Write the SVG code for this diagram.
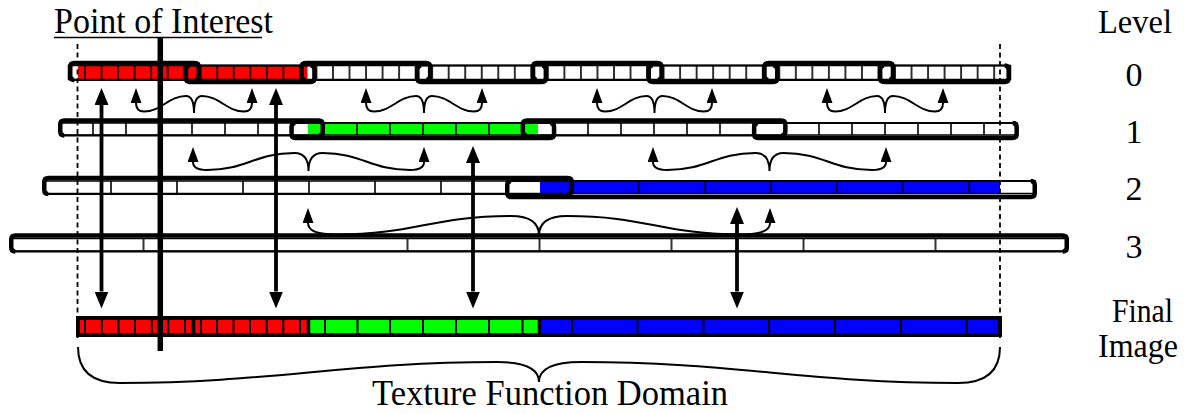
<svg xmlns="http://www.w3.org/2000/svg" width="1190" height="414" viewBox="0 0 1190 414">
<style>
text{font-family:"Liberation Serif","Times New Roman",serif;fill:#000}
.lbl{font-size:34px}
.num{font-size:34px;text-anchor:middle}
.big{font-size:35px}
.edge{fill:none;stroke:#000;stroke-width:1.5}
.thin{fill:none;stroke:#000;stroke-width:2}
.thick{fill:none;stroke:#000;stroke-width:4.5;stroke-linejoin:round}
.dash{stroke:#000;stroke-width:1.8;stroke-dasharray:5 3.5}
.dbl{stroke:#000;stroke-width:3.8}
.brace{fill:none;stroke:#000;stroke-width:2}
.cell{stroke:#000;stroke-width:2}
.div{stroke:#000;stroke-width:3.5}
</style>
<defs>
<pattern id="p0" patternUnits="userSpaceOnUse" x="68.5" y="0" width="16.53" height="414"><rect width="0.8" height="414"/><rect x="15.73" width="0.8" height="414"/></pattern>
<pattern id="p1" patternUnits="userSpaceOnUse" x="60" y="0" width="33" height="414"><rect width="0.8" height="414"/><rect x="32.2" width="0.8" height="414"/></pattern>
<pattern id="p2" patternUnits="userSpaceOnUse" x="45" y="0" width="66" height="414"><rect width="0.8" height="414"/><rect x="65.2" width="0.8" height="414"/></pattern>
<pattern id="p3" patternUnits="userSpaceOnUse" x="11.5" y="0" width="132" height="414"><rect width="0.8" height="414"/><rect x="131.2" width="0.8" height="414"/></pattern>
<marker id="ah" markerUnits="userSpaceOnUse" viewBox="0 -7 17 14" markerWidth="17" markerHeight="14" refX="0" refY="0" orient="auto-start-reverse"><path d="M0,-7 L17,0 L0,7 z" fill="#000"/></marker>
<marker id="bh" markerUnits="userSpaceOnUse" viewBox="0 -5.5 15 11" markerWidth="15" markerHeight="11" refX="0" refY="0" orient="auto-start-reverse"><path d="M0,-5.5 L15,0 L0,5.5 z" fill="#000"/></marker>
<g id="b0r"><rect class="thin" x="0" y="63" width="128.5" height="17" rx="4"/><path class="thick" d="M4,80 Q0,80 0,76 V67 Q0,63 4,63 H124.5 Q128.5,63 128.5,67 V76 Q128.5,80 124.5,80"/></g>
<g id="b0l"><rect class="thin" x="0" y="65.5" width="128.5" height="16.5" rx="4"/><path class="thick" d="M4,65.5 Q0,65.5 0,69.5 V78 Q0,82 4,82 H124.5 Q128.5,82 128.5,78 V69.5 Q128.5,65.5 124.5,65.5"/></g>
<g id="b1r"><rect class="thin" x="0" y="120.5" width="262.5" height="15" rx="4"/><path class="thick" d="M4,135.5 Q0,135.5 0,131.5 V124.5 Q0,120.5 4,120.5 H258.5 Q262.5,120.5 262.5,124.5 V131.5 Q262.5,135.5 258.5,135.5"/></g>
<g id="b1l"><rect class="thin" x="0" y="123" width="262.5" height="15" rx="4"/><path class="thick" d="M4,123 Q0,123 0,127 V134 Q0,138 4,138 H258.5 Q262.5,138 262.5,134 V127 Q262.5,123 258.5,123"/></g>
</defs>
<rect width="1190" height="414" fill="#fff"/>

<g id="level0">
<rect x="68.5" y="65.5" width="942" height="14" fill="#fff"/>
<rect x="78" y="65.5" width="229.5" height="14" fill="#f00"/>
<rect x="68.5" y="65.5" width="942" height="14" fill="url(#p0)"/>
<rect class="edge" x="68.5" y="65.5" width="942" height="14"/>
<use href="#b0r" x="70.25"/>
<use href="#b0l" x="185.95"/>
<use href="#b0r" x="301.65"/>
<use href="#b0l" x="417.35"/>
<use href="#b0r" x="533.05"/>
<use href="#b0l" x="648.75"/>
<use href="#b0r" x="764.45"/>
<use href="#b0l" x="880.15"/>
</g>

<g id="level1">
<rect x="60" y="123" width="957" height="12" fill="#fff"/>
<rect x="308" y="123" width="230" height="12" fill="#0f0"/>
<rect x="60" y="123" width="957" height="12" fill="url(#p1)"/>
<rect class="edge" x="60" y="123" width="957" height="12"/>
<use href="#b1r" x="60.25"/>
<use href="#b1l" x="291.55"/>
<use href="#b1r" x="522.85"/>
<use href="#b1l" x="754.15"/>
</g>

<g id="level2">
<rect x="45" y="181" width="990" height="12.5" fill="#fff"/>
<rect x="540" y="181" width="460" height="12.5" fill="#00f"/>
<rect x="45" y="181" width="990" height="12.5" fill="url(#p2)"/>
<rect class="edge" x="45" y="181" width="990" height="12.5"/>
<rect class="thin" x="44.25" y="178" width="527.5" height="16" rx="4"/>
<path class="thick" d="M48.25,194 Q44.25,194 44.25,190 V182 Q44.25,178 48.25,178 H567.75 Q571.75,178 571.75,182 V190 Q571.75,194 567.75,194"/>
<rect class="thin" x="507.25" y="181" width="527.5" height="16" rx="4"/>
<path class="thick" d="M511.25,181 Q507.25,181 507.25,185 V193 Q507.25,197 511.25,197 H1030.75 Q1034.75,197 1034.75,193 V185 Q1034.75,181 1030.75,181"/>
</g>

<g id="level3">
<rect x="11.5" y="238.5" width="1056" height="12.5" fill="#fff"/>
<rect x="11.5" y="238.5" width="1056" height="12.5" fill="url(#p3)"/>
<rect class="edge" x="11.5" y="238.5" width="1056" height="12.5"/>
<rect class="thin" x="11.25" y="235.5" width="1055.5" height="16" rx="4"/>
<path class="thick" d="M15.25,251.5 Q11.25,251.5 11.25,247.5 V239.5 Q11.25,235.5 15.25,235.5 H1062.75 Q1066.75,235.5 1066.75,239.5 V247.5 Q1066.75,251.5 1062.75,251.5"/>
</g>

<g id="final-image">
<rect x="78" y="320" width="230" height="13" fill="#f00"/>
<rect x="308" y="320" width="231.5" height="13" fill="#0f0"/>
<rect x="539.5" y="320" width="460.5" height="13" fill="#00f"/>
<g class="cell">
<line x1="85" y1="320" x2="85" y2="333"/><line x1="101.8" y1="320" x2="101.8" y2="333"/><line x1="118.5" y1="320" x2="118.5" y2="333"/><line x1="135" y1="320" x2="135" y2="333"/><line x1="151.8" y1="320" x2="151.8" y2="333"/><line x1="168.3" y1="320" x2="168.3" y2="333"/><line x1="185" y1="320" x2="185" y2="333"/><line x1="201" y1="320" x2="201" y2="333"/><line x1="217" y1="320" x2="217" y2="333"/><line x1="233.5" y1="320" x2="233.5" y2="333"/><line x1="250" y1="320" x2="250" y2="333"/><line x1="266.7" y1="320" x2="266.7" y2="333"/><line x1="283.3" y1="320" x2="283.3" y2="333"/><line x1="300" y1="320" x2="300" y2="333"/>
<line x1="325" y1="320" x2="325" y2="333"/><line x1="357.5" y1="320" x2="357.5" y2="333"/><line x1="390" y1="320" x2="390" y2="333"/><line x1="423" y1="320" x2="423" y2="333"/><line x1="456" y1="320" x2="456" y2="333"/><line x1="489" y1="320" x2="489" y2="333"/><line x1="522.5" y1="320" x2="522.5" y2="333"/>
<line x1="572" y1="320" x2="572" y2="333"/><line x1="637.5" y1="320" x2="637.5" y2="333"/><line x1="703.5" y1="320" x2="703.5" y2="333"/><line x1="769" y1="320" x2="769" y2="333"/><line x1="835" y1="320" x2="835" y2="333"/><line x1="901" y1="320" x2="901" y2="333"/><line x1="967" y1="320" x2="967" y2="333"/>
</g>
<g class="div">
<line x1="193.5" y1="318" x2="193.5" y2="335"/><line x1="308.5" y1="318" x2="308.5" y2="335"/><line x1="539.5" y1="318" x2="539.5" y2="335"/>
</g>
<rect x="78" y="318" width="922" height="17" fill="none" stroke="#000" stroke-width="4"/>
</g>

<g id="connectors">
<line class="dash" x1="77.5" y1="44" x2="77.5" y2="340"/>
<line class="dash" x1="1000" y1="44" x2="1000" y2="340"/>
<g class="brace">
<path marker-start="url(#bh)" marker-end="url(#bh)" d="M136,103 Q136,111.5 144,111.5 C161,111.5 169,96 186,96 Q194,96 194,113 Q194,96 202,96 C219,96 227,111.5 244,111.5 Q252,111.5 252,103"/>
<path marker-start="url(#bh)" marker-end="url(#bh)" d="M366,103 Q366,111.5 374,111.5 C391,111.5 399,96 416,96 Q424,96 424,113 Q424,96 432,96 C449,96 457,111.5 474,111.5 Q482,111.5 482,103"/>
<path marker-start="url(#bh)" marker-end="url(#bh)" d="M597,103 Q597,111.5 605,111.5 C622,111.5 629.5,96 646.5,96 Q654.5,96 654.5,113 Q654.5,96 662.5,96 C679.5,96 687,111.5 704,111.5 Q712,111.5 712,103"/>
<path marker-start="url(#bh)" marker-end="url(#bh)" d="M827,103 Q827,111.5 835,111.5 C852,111.5 860,96 877,96 Q885,96 885,113 Q885,96 893,96 C910,96 918,111.5 935,111.5 Q943,111.5 943,103"/>
<path marker-start="url(#bh)" marker-end="url(#bh)" d="M193,162 Q193,170 207,170 C247,170 254.5,153 294.5,153 Q308.5,153 308.5,171 Q308.5,153 322.5,153 C362.5,153 370,170 410,170 Q424,170 424,162"/>
<path marker-start="url(#bh)" marker-end="url(#bh)" d="M653,162 Q653,170 667,170 C708,170 714.5,153 755.5,153 Q769.5,153 769.5,171 Q769.5,153 783.5,153 C824.5,153 831,170 872,170 Q886,170 886,162"/>
<path marker-start="url(#bh)" marker-end="url(#bh)" d="M308,223 Q308,234.5 336,234.5 C416,234.5 431,216 511,216 Q539,216 539,235.5 Q539,216 567,216 C647,216 662,234.5 742,234.5 Q770,234.5 770,223"/>
<path d="M78,347 Q78,383 120,383 C270,383 347,362 497,362 Q539,362 539,382 Q539,362 581,362 C731,362 808,383 958,383 Q1000,383 1000,347"/>
</g>
<line class="dbl" x1="101.5" y1="105" x2="101.5" y2="291.5" marker-start="url(#ah)" marker-end="url(#ah)"/>
<line class="dbl" x1="276" y1="105" x2="276" y2="291.5" marker-start="url(#ah)" marker-end="url(#ah)"/>
<line class="dbl" x1="473" y1="163" x2="473" y2="291.5" marker-start="url(#ah)" marker-end="url(#ah)"/>
<line class="dbl" x1="737" y1="224" x2="737" y2="291.5" marker-start="url(#ah)" marker-end="url(#ah)"/>
<line x1="160.3" y1="38" x2="160.3" y2="351" stroke="#000" stroke-width="5.5"/>
</g>

<g id="labels">
<text class="big" x="54" y="33" textLength="219" lengthAdjust="spacingAndGlyphs">Point of Interest</text>
<line x1="54" y1="37.5" x2="262" y2="37.5" stroke="#000" stroke-width="1.5"/>
<text class="lbl" x="1098" y="33" textLength="74" lengthAdjust="spacingAndGlyphs">Level</text>
<text class="num" x="1134" y="86">0</text>
<text class="num" x="1134" y="143">1</text>
<text class="num" x="1134" y="200">2</text>
<text class="num" x="1134" y="258">3</text>
<text class="lbl" x="1112" y="322" textLength="61" lengthAdjust="spacingAndGlyphs">Final</text>
<text class="lbl" x="1098" y="357" textLength="80" lengthAdjust="spacingAndGlyphs">Image</text>
<text class="big" x="372" y="405" textLength="356" lengthAdjust="spacingAndGlyphs">Texture Function Domain</text>
</g>
</svg>
